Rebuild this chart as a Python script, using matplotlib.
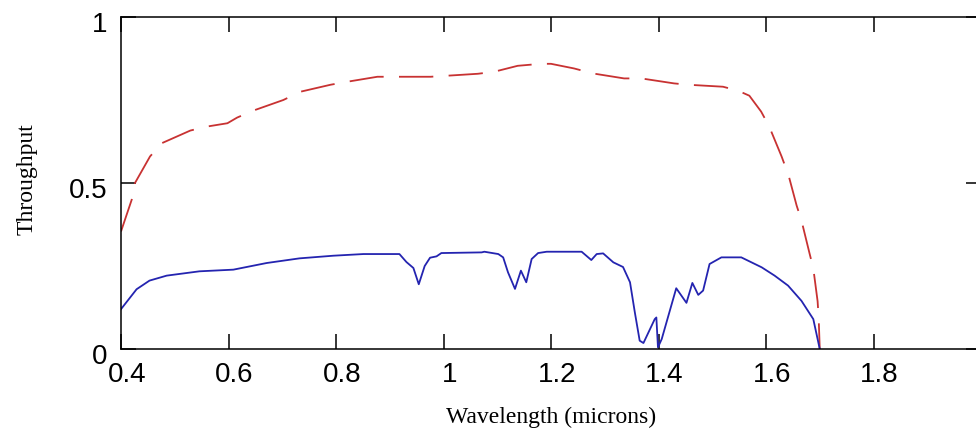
import matplotlib
matplotlib.use("Agg")
import matplotlib.pyplot as plt
from matplotlib.transforms import ScaledTranslation

# upper curve (red, dashed)
red_wl = [0.400, 0.420, 0.426, 0.454, 0.476, 0.529, 0.560, 0.598, 0.616, 0.646,
          0.702, 0.734, 0.790, 0.821, 0.877, 0.976, 1.064, 1.094, 1.138, 1.181,
          1.200, 1.243, 1.278, 1.336, 1.368, 1.429, 1.455, 1.520, 1.548, 1.569,
          1.591, 1.606, 1.629, 1.642, 1.657, 1.666, 1.681, 1.688, 1.696, 1.698, 1.700]
red_tp = [0.354, 0.45, 0.50, 0.58, 0.62, 0.658, 0.67, 0.68, 0.697, 0.718,
          0.75, 0.775, 0.796, 0.805, 0.82, 0.82, 0.829, 0.835, 0.853, 0.859,
          0.859, 0.845, 0.83, 0.815, 0.815, 0.80, 0.796, 0.79, 0.778, 0.763,
          0.715, 0.67, 0.58, 0.523, 0.432, 0.387, 0.288, 0.243, 0.144, 0.093, 0.0]

# lower curve (blue, solid)
blue_wl = [0.400, 0.429, 0.453, 0.485, 0.546, 0.609, 0.671, 0.732, 0.795, 0.851,
           0.918, 0.931, 0.944, 0.954, 0.965, 0.975, 0.987, 0.996, 1.071, 1.076,
           1.102, 1.111, 1.120, 1.133, 1.144, 1.154, 1.164, 1.176, 1.192, 1.257,
           1.275, 1.285, 1.297, 1.316, 1.334, 1.347, 1.356, 1.365, 1.372, 1.393,
           1.396, 1.399, 1.406, 1.433, 1.452, 1.463, 1.474, 1.483, 1.495, 1.517,
           1.554, 1.573, 1.592, 1.616, 1.641, 1.666, 1.688, 1.700]
blue_tp = [0.12, 0.18, 0.206, 0.221, 0.234, 0.239, 0.259, 0.273, 0.281, 0.286,
           0.286, 0.262, 0.244, 0.195, 0.25, 0.275, 0.279, 0.289, 0.291, 0.293,
           0.286, 0.276, 0.231, 0.181, 0.236, 0.201, 0.271, 0.289, 0.293, 0.293,
           0.268, 0.286, 0.288, 0.261, 0.247, 0.201, 0.11, 0.025, 0.018, 0.09,
           0.095, 0.005, 0.03, 0.183, 0.139, 0.199, 0.163, 0.176, 0.256, 0.276,
           0.276, 0.261, 0.246, 0.221, 0.191, 0.145, 0.09, 0.0]

x_ticks = [0.4, 0.6, 0.8, 1.0, 1.2, 1.4, 1.6, 1.8]
x_ticklabels = ["0.4", "0.6", "0.8", "1", "1.2", "1.4", "1.6", "1.8"]
y_ticks = [0, 0.5, 1]
y_ticklabels = ["0", "0.5", "1"]

fig = plt.figure(figsize=(9.76, 4.35), dpi=100)
ax = fig.add_axes([121 / 976, 85 / 435, 860 / 976, 332 / 435])

ax.plot(red_wl, red_tp, color="#c83232", lw=1.3, dashes=(19, 8.5))
ax.plot(blue_wl, blue_tp, color="#2424b0", lw=1.3)

ax.set_xlim(0.4, 2.0)
ax.set_ylim(0, 1)
ax.set_xticks(x_ticks)
ax.set_xticklabels(x_ticklabels)
ax.set_yticks(y_ticks)
ax.set_yticklabels(y_ticklabels)

for sp in ax.spines.values():
    sp.set_linewidth(1.1)
    sp.set_color("black")

ax.tick_params(direction="in", length=10.8, width=1.1, top=True, right=True,
               labelsize=20, colors="black")
ax.tick_params(axis="x", pad=8.5)
ax.tick_params(axis="y", pad=10)
for lab in ax.get_xticklabels() + ax.get_yticklabels():
    lab.set_fontfamily("Liberation Sans")
for lab in ax.get_xticklabels():
    lab.set_transform(lab.get_transform() + ScaledTranslation(0.06, 0, fig.dpi_scale_trans))
for lab in ax.get_yticklabels():
    lab.set_transform(lab.get_transform() + ScaledTranslation(0, -0.04, fig.dpi_scale_trans))

ax.set_xlabel("Wavelength (microns)", fontsize=17, family="Liberation Serif")
ax.set_ylabel("Throughput", fontsize=17, family="Liberation Serif")
ax.xaxis.set_label_coords(0.5, -0.17)
ax.yaxis.set_label_coords(-0.097, 0.515)

fig.savefig("out.png", dpi=100)
